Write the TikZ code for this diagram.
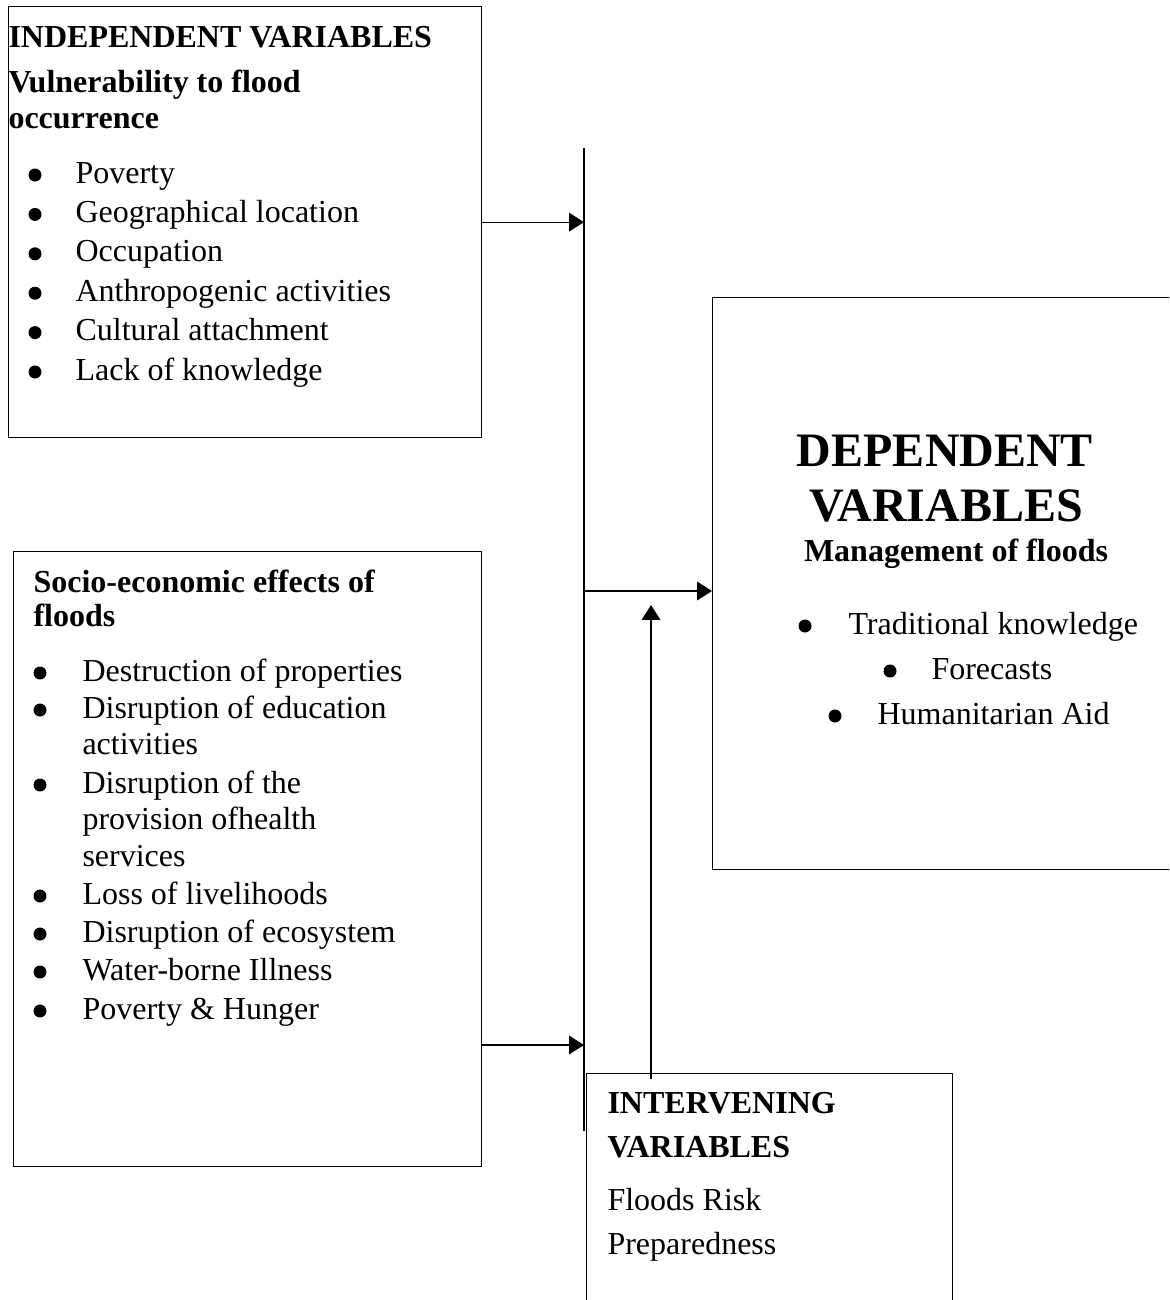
\documentclass[tikz,border=0pt]{standalone}
\usepackage{fontspec}
\setmainfont{Liberation Serif}
\usetikzlibrary{arrows.meta}
\newdimen\pxu \pxu=0.375pt

\begin{document}
\begin{tikzpicture}[
    x=0.375pt, y=-0.375pt,
    box/.style={draw, line width=0.5pt, anchor=north west, inner sep=0pt},
    important line/.style={line width=0.5pt},
    pile/.style={line width=0.5pt, -{Triangle[length=5.6pt, width=7pt]}},
    item text/.style={anchor=base west, inner sep=0pt, font=\fontsize{12}{14}\selectfont},
    head text/.style={item text, font=\fontsize{12}{14}\selectfont\bfseries},
    dot/.style={circle, fill, inner sep=0pt, minimum size=13\pxu, yshift=8\pxu}
    ]
    \clip (0,0) rectangle (1169,1300);
    % boxes
    \node[box, minimum width=473\pxu, minimum height=431\pxu] (indep) at (8,6) {};
    \node[box, minimum width=468\pxu, minimum height=615\pxu] (socio) at (13,551) {};
    \node[box, minimum width=500\pxu, minimum height=572\pxu] (dep) at (712,297) {};
    \node[box, minimum width=366\pxu, minimum height=260\pxu] (interv) at (586,1073) {};
    % independent variables
    \node[head text] (indephead) at (8,47) {INDEPENDENT VARIABLES};
    \node[head text] (vulnhead) at (8,92) {Vulnerability to flood};
    \node[head text] (vulnhead2) at (8,128) {occurrence};
    \foreach \t [count=\i] in {Poverty, Geographical location, Occupation,
        Anthropogenic activities, Cultural attachment, Lack of knowledge} {
        \node[dot] (ivb\i) at (35,{183+39.4*(\i-1)}) {};
        \node[item text] (iv\i) at (75,{183+39.4*(\i-1)}) {\t};
    }
    % socio-economic effects
    \node[head text] (sochead) at (33,592) {Socio-economic effects of};
    \node[head text] (sochead2) at (33,626) {floods};
    \foreach \y/\t [count=\i] in {681/Destruction of properties,
        718/Disruption of education, 754/activities, 793/Disruption of the,
        829/provision ofhealth, 866/services, 904/Loss of livelihoods,
        942/Disruption of ecosystem, 980/Water-borne Illness,
        1019/Poverty \& Hunger}
        \node[item text] (se\i) at (82,\y) {\t};
    \foreach \y [count=\i] in {681,718,793,904,942,980,1019}
        \node[dot] (seb\i) at (40,\y) {};
    % dependent variables
    \node[anchor=base, inner sep=0pt, font=\fontsize{18}{20}\selectfont\bfseries]
        (dephead) at (945,466) {DEPENDENT};
    \node[anchor=base, inner sep=0pt, font=\fontsize{18}{20}\selectfont\bfseries]
        (dephead2) at (946,521) {VARIABLES};
    \node[anchor=base, inner sep=0pt, font=\fontsize{12}{14}\selectfont\bfseries]
        (mgmt) at (956,561) {Management of floods};
    \node[dot] (dvb1) at (805,634) {};
    \node[item text] (dv1) at (848,634) {Traditional knowledge};
    \node[dot] (dvb2) at (890,679) {};
    \node[item text] (dv2) at (931,679) {Forecasts};
    \node[dot] (dvb3) at (835,724) {};
    \node[item text] (dv3) at (877,724) {Humanitarian Aid};
    % intervening variables
    \node[head text] (inthead) at (607,1113) {INTERVENING};
    \node[head text] (inthead2) at (607,1157) {VARIABLES};
    \node[item text] (int1) at (607,1210) {Floods Risk};
    \node[item text] (int2) at (607,1254) {Preparedness};
    % connectors
    \coordinate (spinetop) at (584,148);
    \coordinate (spinebot) at (584,1131);
    \coordinate (midtap) at (584,591);
    \coordinate (lowtap) at (584,1045);
    \coordinate (upfoot) at (651,1079);
    \coordinate (uptip) at (651,605);
    \draw[important line] (spinetop) -- (spinebot);
    \draw[pile] (indep.east) -- (indep.east -| spinetop);
    \draw[pile] (socio.east |- lowtap) -- (lowtap);
    \draw[pile] (midtap) -- (dep.west |- midtap);
    \draw[pile] (upfoot) -- (uptip);
\end{tikzpicture}
\end{document}
